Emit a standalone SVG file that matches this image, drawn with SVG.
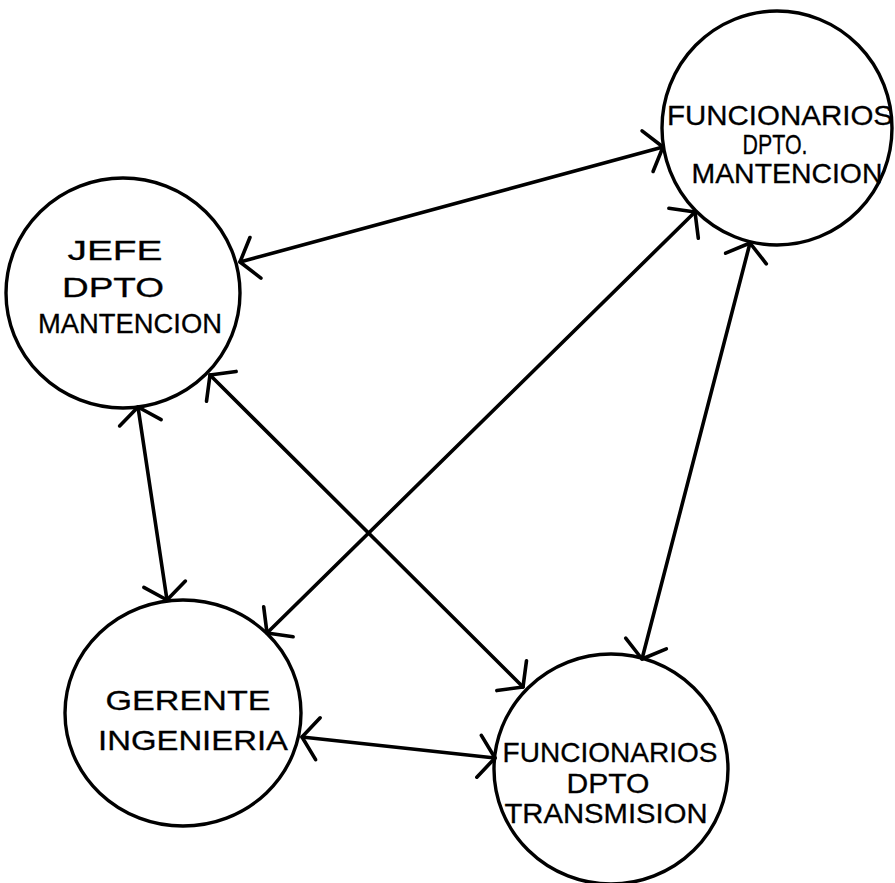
<svg xmlns="http://www.w3.org/2000/svg" width="895" height="883" viewBox="0 0 895 883">
  <style>
    .node { fill: none; stroke: #000; stroke-width: 3.4; }
    .edge { fill: none; stroke: #000; stroke-width: 3.6; stroke-linecap: round; }
    .lbl { font-family: "Liberation Sans", Arial, sans-serif; font-size: 28px; fill: #000; stroke: #000; stroke-width: 0.3; text-anchor: middle; }
  </style>
  <defs>
    <marker id="head" markerUnits="userSpaceOnUse" viewBox="-30 -30 40 60" refX="0" refY="0" markerWidth="40" markerHeight="60" orient="auto-start-reverse" overflow="visible">
      <path d="M -16 -21 L 0 0 L -16 21" fill="none" stroke="#000" stroke-width="3.6" stroke-linecap="round" stroke-linejoin="round"/>
    </marker>
  </defs>

  <g id="connectors">
    <line class="edge" x1="240" y1="262" x2="663" y2="147" marker-start="url(#head)" marker-end="url(#head)"/>
    <line class="edge" x1="138" y1="407" x2="167" y2="600" marker-start="url(#head)" marker-end="url(#head)"/>
    <line class="edge" x1="210" y1="375" x2="523" y2="687" marker-start="url(#head)" marker-end="url(#head)"/>
    <line class="edge" x1="267" y1="633" x2="695" y2="212" marker-start="url(#head)" marker-end="url(#head)"/>
    <line class="edge" x1="750" y1="243" x2="642" y2="659" marker-start="url(#head)" marker-end="url(#head)"/>
    <line class="edge" x1="302" y1="737" x2="495" y2="758" marker-start="url(#head)" marker-end="url(#head)"/>
  </g>

  <g id="jefe">
    <ellipse class="node" cx="123" cy="293" rx="117" ry="115"/>
    <text class="lbl" x="115" y="260" font-size="32" textLength="95" lengthAdjust="spacingAndGlyphs">JEFE</text>
    <text class="lbl" x="113" y="297" textLength="102" lengthAdjust="spacingAndGlyphs">DPTO</text>
    <text class="lbl" x="130" y="333" textLength="184" lengthAdjust="spacingAndGlyphs">MANTENCION</text>
  </g>

  <g id="func-mantencion">
    <ellipse class="node" cx="777" cy="128" rx="115" ry="117"/>
    <text class="lbl" x="780" y="125" font-size="29" textLength="226" lengthAdjust="spacingAndGlyphs">FUNCIONARIOS</text>
    <text class="lbl" x="775" y="154" font-size="22" textLength="65" lengthAdjust="spacingAndGlyphs">DPTO.</text>
    <text class="lbl" x="787" y="183" font-size="25" textLength="191" lengthAdjust="spacingAndGlyphs">MANTENCION</text>
  </g>

  <g id="gerente">
    <ellipse class="node" cx="183" cy="713" rx="118" ry="113"/>
    <text class="lbl" x="188" y="710" font-size="30" textLength="165" lengthAdjust="spacingAndGlyphs">GERENTE</text>
    <text class="lbl" x="193" y="750" font-size="30" textLength="190" lengthAdjust="spacingAndGlyphs">INGENIERIA</text>
  </g>

  <g id="func-transmision">
    <ellipse class="node" cx="611" cy="769" rx="117" ry="115"/>
    <text class="lbl" x="610" y="762" font-size="26" textLength="215" lengthAdjust="spacingAndGlyphs">FUNCIONARIOS</text>
    <text class="lbl" x="608" y="793" font-size="20" textLength="83" lengthAdjust="spacingAndGlyphs">DPTO</text>
    <text class="lbl" x="606" y="823" font-size="27" textLength="203" lengthAdjust="spacingAndGlyphs">TRANSMISION</text>
  </g>
</svg>
